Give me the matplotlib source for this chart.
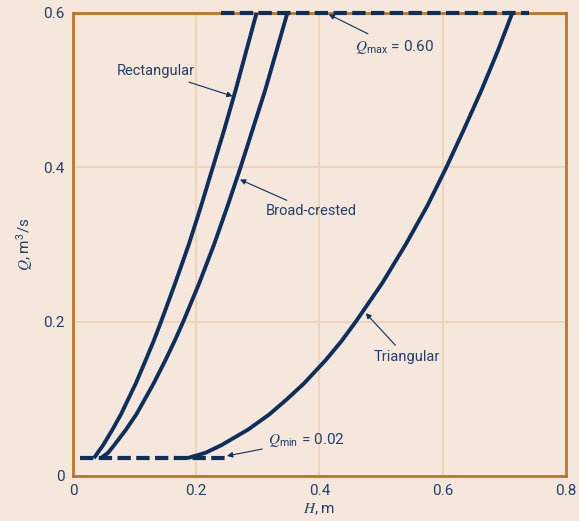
import numpy as np
import matplotlib.pyplot as plt

plt.rcParams['font.family'] = ['Roboto', 'DejaVu Sans']
plt.rcParams['mathtext.fontset'] = 'custom'
plt.rcParams['mathtext.it'] = 'STIXGeneral:italic'
plt.rcParams['mathtext.rm'] = 'Roboto'

# flow Q (m3/s) read at these heads H (m)
q_vals = [0.023, 0.03, 0.04, 0.06, 0.08, 0.10, 0.12, 0.15, 0.175, 0.20,
          0.25, 0.30, 0.35, 0.40, 0.45, 0.50, 0.55, 0.60]
h_rect = [0.034, 0.040, 0.049, 0.064, 0.078, 0.090, 0.102, 0.118, 0.131, 0.143,
          0.166, 0.188, 0.208, 0.227, 0.246, 0.264, 0.281, 0.298]
h_broad = [0.045, 0.057, 0.067, 0.086, 0.103, 0.117, 0.131, 0.150, 0.165, 0.179,
           0.205, 0.229, 0.251, 0.272, 0.292, 0.312, 0.330, 0.348]
h_tri = [0.185, 0.215, 0.241, 0.284, 0.319, 0.348, 0.375, 0.410, 0.436, 0.459,
         0.502, 0.540, 0.575, 0.606, 0.635, 0.663, 0.689, 0.713]

q_min_line = 0.023
q_max_line = 0.60
qmin_h = [0.011, 0.25]
qmax_h = [0.24, 0.74]

bg = '#f5e7db'
navy = '#0c2f5e'
txt = '#23406a'
spine_c = '#c07424'
grid_c = '#edd2b3'

fig = plt.figure(figsize=(5.79, 5.21), dpi=100)
fig.patch.set_facecolor(bg)
ax = fig.add_axes([0.126, 0.0864, 0.8515, 0.889])
ax.set_facecolor(bg)

for h in (h_rect, h_broad, h_tri):
    ax.plot(h, q_vals, color=navy, lw=2.8, solid_capstyle='butt',
            solid_joinstyle='round', zorder=3)
ax.plot(qmin_h, [q_min_line, q_min_line], color=navy, lw=3, dashes=(3.2, 1.3), zorder=3)
ax.plot(qmax_h, [q_max_line, q_max_line], color=navy, lw=3, dashes=(3.2, 1.3), zorder=4,
        clip_on=False)

ax.set_xlim(0, 0.8)
ax.set_ylim(0, 0.6)
ax.set_xticks([0, 0.2, 0.4, 0.6, 0.8])
ax.set_xticklabels(['0', '0.2', '0.4', '0.6', '0.8'])
ax.set_yticks([0, 0.2, 0.4, 0.6])
ax.set_yticklabels(['0', '0.2', '0.4', '0.6'])
ax.tick_params(length=0, labelsize=11, labelcolor=txt, pad=6)
ax.grid(True, color=grid_c, lw=1.2, zorder=0)
for s in ax.spines.values():
    s.set_color(spine_c)
    s.set_linewidth(2)

ax.set_xlabel('$H$, m', color=txt, fontsize=11, labelpad=2)
ax.set_ylabel('$Q$, m$^3$/s', color=txt, fontsize=11, labelpad=6)

arrow = dict(arrowstyle='-|>', color=navy, lw=0.8, mutation_scale=8, shrinkA=2, shrinkB=0)
ax.annotate('Rectangular', xy=(0.259, 0.492), xytext=(0.198, 0.524), ha='right', va='center',
            color=txt, fontsize=10.5, arrowprops=arrow)
ax.annotate('Broad-crested', xy=(0.271, 0.384), xytext=(0.313, 0.343), ha='left', va='center',
            color=txt, fontsize=10.5, arrowprops=arrow)
ax.annotate('Triangular', xy=(0.475, 0.211), xytext=(0.541, 0.154), ha='center', va='center',
            color=txt, fontsize=10.5, arrowprops=arrow)
ax.annotate('$Q_{\\mathrm{max}}$ = 0.60', xy=(0.415, 0.598), xytext=(0.457, 0.556), ha='left',
            va='center', color=txt, fontsize=11, arrowprops=arrow)
ax.annotate('$Q_{\\mathrm{min}}$ = 0.02', xy=(0.25, 0.026), xytext=(0.316, 0.046), ha='left',
            va='center', color=txt, fontsize=11, arrowprops=arrow)

fig.savefig('out.png', dpi=100, facecolor=bg)
